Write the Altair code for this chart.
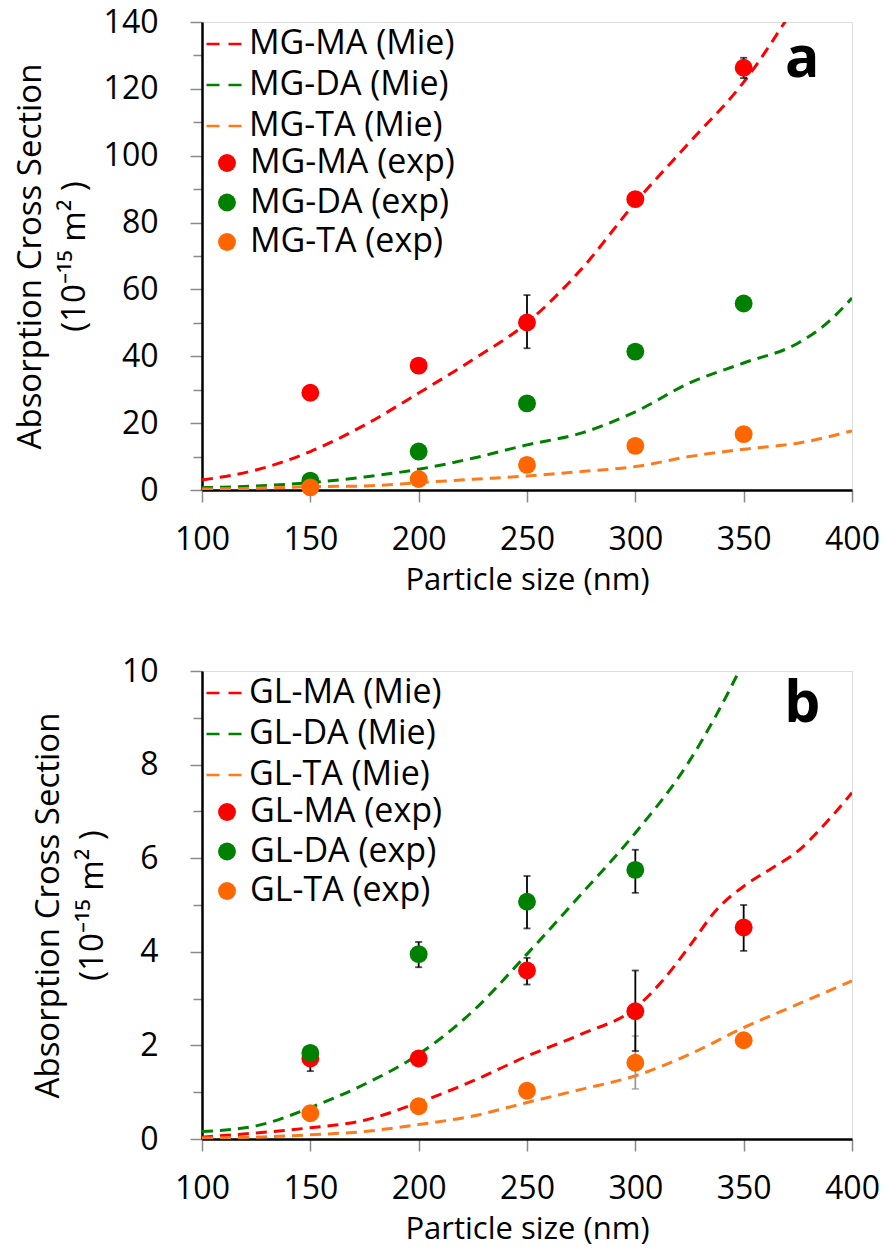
import altair as alt
import pandas as pd

FONT = "Open Sans"

# ---------------- Panel a (MG) ----------------
mie_x = [100, 125, 150, 175, 200, 225, 250, 275, 300, 325, 350, 375, 400]
mg_ma_mie = [3, 6, 11.5, 19.4, 29, 39, 50, 66, 86, 104, 122, 146, 172]
mg_da_mie_x = [100, 125, 150, 175, 200, 225, 250, 275, 300, 325, 350, 375, 387.5, 400]
mg_da_mie = [0.7, 1.2, 2.2, 3.9, 6.2, 9.5, 13.5, 17, 23.4, 32, 38, 43.9, 49.4, 57.4]
mg_ta_mie = [0.3, 0.5, 1.0, 1.2, 2.2, 3.2, 4.2, 5.5, 7, 10, 12.2, 14, 17.7]

exp_x = [150, 200, 250, 300, 350]
mg_ma_exp = [29.1, 37.2, 50.1, 87, 126.3]
mg_da_exp = [2.8, 11.5, 25.9, 41.4, 55.8]
mg_ta_exp = [0.8, 3.3, 7.5, 13.2, 16.7]

mg_ma_err_x = [250, 350]
mg_ma_err_lo = [42.4, 123.2]
mg_ma_err_hi = [58.3, 129.3]

# ---------------- Panel b (GL) ----------------
gl_ma_mie_x = [100, 125, 150, 175, 200, 225, 250, 275, 300, 312.5, 325, 337.5, 350, 362.5, 375, 387.5, 400]
gl_ma_mie = [0.04, 0.13, 0.24, 0.4, 0.78, 1.24, 1.77, 2.24, 2.8, 3.38, 4.12, 4.9, 5.4, 5.77, 6.15, 6.73, 7.4]
gl_da_mie_x = [100, 125, 150, 175, 200, 225, 250, 275, 300, 325, 350, 360]
gl_da_mie = [0.16, 0.28, 0.67, 1.17, 1.81, 2.73, 3.95, 5.23, 6.54, 8.08, 10.2, 11.2]
gl_ta_mie = [0.02, 0.04, 0.09, 0.16, 0.31, 0.49, 0.78, 1.06, 1.35, 1.81, 2.38, 2.88, 3.38]

gl_ma_exp = [1.72, 1.72, 3.6, 2.73, 4.52]
gl_da_exp_x = [150, 200, 250, 300]
gl_da_exp = [1.84, 3.95, 5.07, 5.75]
gl_ta_exp = [0.55, 0.70, 1.03, 1.63, 2.11]

gl_ma_err_x = [150, 250, 300, 350]
gl_ma_err_lo = [1.45, 3.3, 1.88, 4.02]
gl_ma_err_hi = [1.95, 3.87, 3.6, 5.0]
gl_da_err_x = [200, 250, 300]
gl_da_err_lo = [3.67, 4.5, 5.26]
gl_da_err_hi = [4.21, 5.62, 6.18]
gl_ta_err_x = [300]
gl_ta_err_lo = [1.07]
gl_ta_err_hi = [2.2]

x_ticks = [100, 150, 200, 250, 300, 350, 400]

RED, GREEN, ORANGE_LINE, ORANGE_PT = "#FF0000", "#008000", "#FF7A1A", "#FF6600"


def series_df(xs, ys, name):
    return pd.DataFrame({"x": xs, "y": ys, "s": name})


def err_df(xs, lo, hi):
    return pd.DataFrame({"x": xs, "lo": lo, "hi": hi})


def panel(prefix, mie, exp, errs, ymax, yminor, ylabel_every, letter, letter_xy):
    mie_names = [f"{prefix}-{k} (Mie)" for k in ("MA", "DA", "TA")]
    exp_names = [f"{prefix}-{k} (exp)" for k in ("MA", "DA", "TA")]
    mie_df = pd.concat([series_df(mx, my, n) for (mx, my), n in zip(mie, mie_names)])
    exp_df = pd.concat([series_df(ex, ey, n) for (ex, ey), n in zip(exp, exp_names)])

    xscale = alt.Scale(domain=[100, 400], nice=False, zero=False)
    yscale = alt.Scale(domain=[0, ymax], nice=False, zero=True)
    n_minor = int(round(ymax / yminor))
    yvals = [round(i * yminor, 6) for i in range(n_minor + 1)]
    xaxis = alt.Axis(values=x_ticks, title="Particle size (nm)", grid=False,
                     labelFontSize=32, titleFontSize=31, labelFont=FONT, titleFont=FONT,
                     tickSize=12, tickColor="#8a8a8a", tickWidth=1.5,
                     domainColor="black", domainWidth=2.5, labelPadding=22,
                     labelFlush=False, labelOverlap=False, titlePadding=10,
                     labelColor="black", titleColor="black", titleFontWeight="normal")
    yaxis = alt.Axis(values=yvals, grid=False,
                     title=["Absorption Cross Section", "(10\u207b\u00b9\u2075 m\u00b2 )"],
                     labelExpr=f"(round(datum.value/{yminor}) % {ylabel_every} == 0) ? datum.label : ''",
                     labelFontSize=32, titleFontSize=33, labelFont=FONT, titleFont=FONT,
                     tickSize={"condition": {"test": f"round(datum.value/{yminor}) % {ylabel_every} == 0", "value": 12}, "value": 9},
                     tickColor="#8a8a8a", tickWidth=1.5,
                     domainColor="black", domainWidth=2.5, labelPadding=32,
                     labelFlush=False, labelOverlap=False, titlePadding=12,
                     titleLineHeight=44,
                     labelColor="black", titleColor="black", titleFontWeight="normal")
    X = alt.X("x:Q", scale=xscale, axis=xaxis)
    Y = alt.Y("y:Q", scale=yscale, axis=yaxis)

    lines = alt.Chart(mie_df).mark_line(strokeDash=[11, 7], strokeWidth=3, clip=True,
                                        interpolate="monotone").encode(
        x=X, y=Y,
        stroke=alt.Stroke("s:N", scale=alt.Scale(domain=mie_names, range=[RED, GREEN, ORANGE_LINE]),
                          legend=alt.Legend(orient="none", legendX=3, legendY=3, title=None,
                                            symbolType="stroke", symbolSize=1225, symbolStrokeWidth=2.5,
                                            symbolDash=[13, 9], labelFontSize=34, labelFont=FONT,
                                            labelLimit=0, labelOffset=6, rowPadding=5, padding=0,
                                            labelColor="black")),
        detail="s:N",
    )

    layers = [lines]
    for (ex, lo, hi), col in errs:
        edf = err_df(ex, lo, hi)
        rule = alt.Chart(edf).mark_rule(color=col, strokeWidth=1.8).encode(
            x=X, y=alt.Y("lo:Q", scale=yscale, axis=yaxis), y2="hi:Q")
        cap_lo = alt.Chart(edf).mark_tick(color=col, orient="horizontal", size=7, thickness=1.8).encode(
            x=X, y=alt.Y("lo:Q", scale=yscale, axis=yaxis))
        cap_hi = alt.Chart(edf).mark_tick(color=col, orient="horizontal", size=7, thickness=1.8).encode(
            x=X, y=alt.Y("hi:Q", scale=yscale, axis=yaxis))
        layers += [rule, cap_lo, cap_hi]

    points = alt.Chart(exp_df).mark_circle(size=320, opacity=1).encode(
        x=X, y=Y,
        fill=alt.Fill("s:N", scale=alt.Scale(domain=exp_names, range=[RED, GREEN, ORANGE_PT]),
                      legend=alt.Legend(orient="none", legendX=8, legendY=124, title=None,
                                        symbolType="circle", symbolSize=320, symbolStrokeWidth=0,
                                        symbolOpacity=1, labelFontSize=34, labelFont=FONT,
                                        labelLimit=0, labelOffset=6, rowPadding=5.5, padding=0,
                                        labelColor="black")),
    )
    layers.append(points)

    letter_df = pd.DataFrame({"x": [letter_xy[0]], "y": [letter_xy[1]], "t": [letter]})
    txt = alt.Chart(letter_df).mark_text(font=FONT, fontSize=57, fontWeight="bold",
                                         baseline="alphabetic", align="center", color="black").encode(
        x=X, y=Y, text="t:N")
    layers.append(txt)

    return alt.layer(*layers).resolve_scale(stroke="independent", fill="independent").properties(
        width=650, height=468)


pa = panel("MG",
           [(mie_x, mg_ma_mie), (mg_da_mie_x, mg_da_mie), (mie_x, mg_ta_mie)],
           [(exp_x, mg_ma_exp), (exp_x, mg_da_exp), (exp_x, mg_ta_exp)],
           [((mg_ma_err_x, mg_ma_err_lo, mg_ma_err_hi), "black")],
           140, 10, 2, "a", (377, 123.5))

pb = panel("GL",
           [(gl_ma_mie_x, gl_ma_mie), (gl_da_mie_x, gl_da_mie), (mie_x, gl_ta_mie)],
           [(exp_x, gl_ma_exp), (gl_da_exp_x, gl_da_exp), (exp_x, gl_ta_exp)],
           [((gl_ta_err_x, gl_ta_err_lo, gl_ta_err_hi), "#9a9a9a"),
            ((gl_ma_err_x, gl_ma_err_lo, gl_ma_err_hi), "black"),
            ((gl_da_err_x, gl_da_err_lo, gl_da_err_hi), "black")],
           10, 1, 2, "b", (377, 8.9))

chart = alt.vconcat(pa, pb, spacing=58).resolve_scale(
    x="independent", y="independent", stroke="independent", fill="independent"
).properties(padding={"left": 13, "top": 5, "right": 4, "bottom": 4}).configure_view(
    stroke="black", strokeWidth=1.5
).configure(background="white")

chart.save("out.html", embed_options={"renderer": "svg", "actions": False})
